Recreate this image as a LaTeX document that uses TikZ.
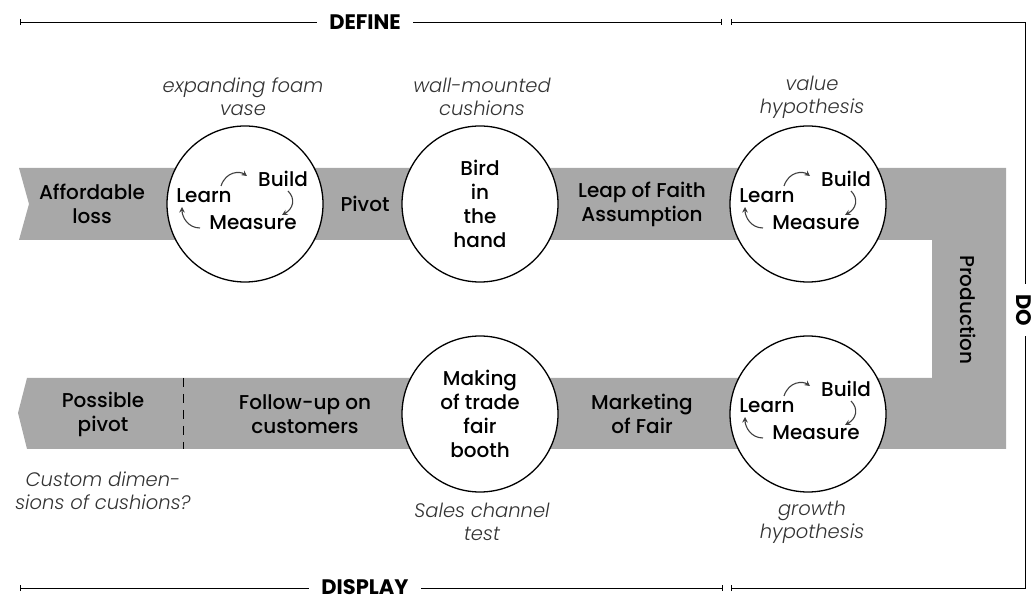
\documentclass[tikz,border=0pt]{standalone}
\usepackage{fontspec}
\setmainfont{Poppins}[BoldFont={Poppins Medium},ItalicFont={Poppins Light Italic}]
\newfontfamily\headfont{Poppins Bold}
\usetikzlibrary{arrows.meta}

% one build-measure-learn loop inside a circle
\newcommand\bmlcycle[1]{%
  \begin{scope}[shift={(#1.center)}]
    \node[step lbl] (#1-l) at (-41,-8) {Learn};
    \node[step lbl] (#1-b) at (38,-25) {Build};
    \node[step lbl] (#1-m) at (8,19) {Measure};
    \draw[cyc] (-24,-18) .. controls (-19,-33) and (-5,-33) .. (2,-28);
    \draw[cyc] (43,-13) .. controls (51,-5) and (48,5) .. (37,11);
    \draw[cyc] (-45,24) .. controls (-57,24) and (-63,13) .. (-63,3);
  \end{scope}}

\begin{document}
\begin{tikzpicture}[x=1pt,y=-1pt,
  band/.style={fill=black!34},
  lbl/.style={align=center, font=\bfseries\fontsize{20}{24}\selectfont},
  step lbl/.style={inner sep=0pt, font=\bfseries\fontsize{20}{22}\selectfont},
  note/.style={align=center, text=black!80, font=\itshape\fontsize{19.5}{23}\selectfont},
  loop/.style={circle, draw, line width=1.3pt, fill=white, minimum size=156pt, inner sep=0pt},
  cyc/.style={-{Stealth[length=5.5pt,width=5.5pt]}, black!75, line width=1.1pt},
  head/.style={fill=white, inner xsep=12pt, font=\headfont\fontsize{21}{24}\selectfont},
  brk/.style={line width=0.9pt}]
  \useasboundingbox (0,0) rectangle (1034,601);

  % ---- grey track ----
  \fill[band] (19,168) -- (1006,168) -- (1006,449) -- (27,449) -- (18,413) -- (27,378)
    -- (932,378) -- (932,240) -- (19,240) -- (29,204) -- cycle;
  \draw[dashed, line width=1pt, dash pattern=on 9pt off 7pt] (183,378) -- (183,449);

  % ---- loops ----
  \node[loop] (c1) at (245,204) {};
  \node[loop] (c2) at (480,204) {};
  \node[loop] (c3) at (808,204) {};
  \node[loop] (c4) at (808,414) {};
  \node[loop] (c5) at (480,414) {};
  \foreach \c in {c1,c3,c4}{\bmlcycle{\c}}
  \node[lbl] at (c2) {Bird\\in\\the\\hand};
  \node[lbl] at (c5) {Making\\of trade\\fair\\booth};

  % ---- labels on the track ----
  \node[lbl] (afford) at (92,204) {Affordable\\loss};
  \node[lbl] (pivot) at (365,204) {Pivot};
  \node[lbl] (leap) at (642,204) {Leap of Faith\\Assumption};
  \node[lbl, rotate=-90] (prod) at (968,310) {Production};
  \node[lbl] (mkt) at (642,414) {Marketing\\of Fair};
  \node[lbl] (follow) at (305,414) {Follow-up on\\customers};
  \node[lbl] (possible) at (103,414) {Possible\\pivot};

  % ---- notes ----
  \node[note] at (243,97) {expanding foam\\vase};
  \node[note] at (482,97) {wall-mounted\\cushions};
  \node[note] at (812,97) {value\\hypothesis};
  \node[note] at (103,491) {Custom dimen-\\sions of cushions?};
  \node[note] at (482,522) {Sales channel\\test};
  \node[note] at (812,522) {growth\\hypothesis};

  % ---- phase brackets ----
  \coordinate (tl) at (20,22);
  \coordinate (tm) at (722,22);
  \coordinate (tr) at (731,22);
  \coordinate (bl) at (20,588);
  \coordinate (bm) at (723,588);
  \coordinate (br) at (731,588);
  \draw[brk, {Bar[width=6pt]}-{Bar[width=6pt]}] (tl) -- (tm);
  \draw[brk, {Bar[width=6pt]}-{Bar[width=6pt]}] (tr) -- (1025,22) -- (1025,588) -- (br);
  \draw[brk, {Bar[width=6pt]}-{Bar[width=6pt]}] (bl) -- (bm);
  \node[head] (define) at (365,22) {DEFINE};
  \node[head] (display) at (365,587) {DISPLAY};
  \node[head, rotate=-90, inner xsep=10pt] (do) at (1024,310) {DO};
\end{tikzpicture}
\end{document}
